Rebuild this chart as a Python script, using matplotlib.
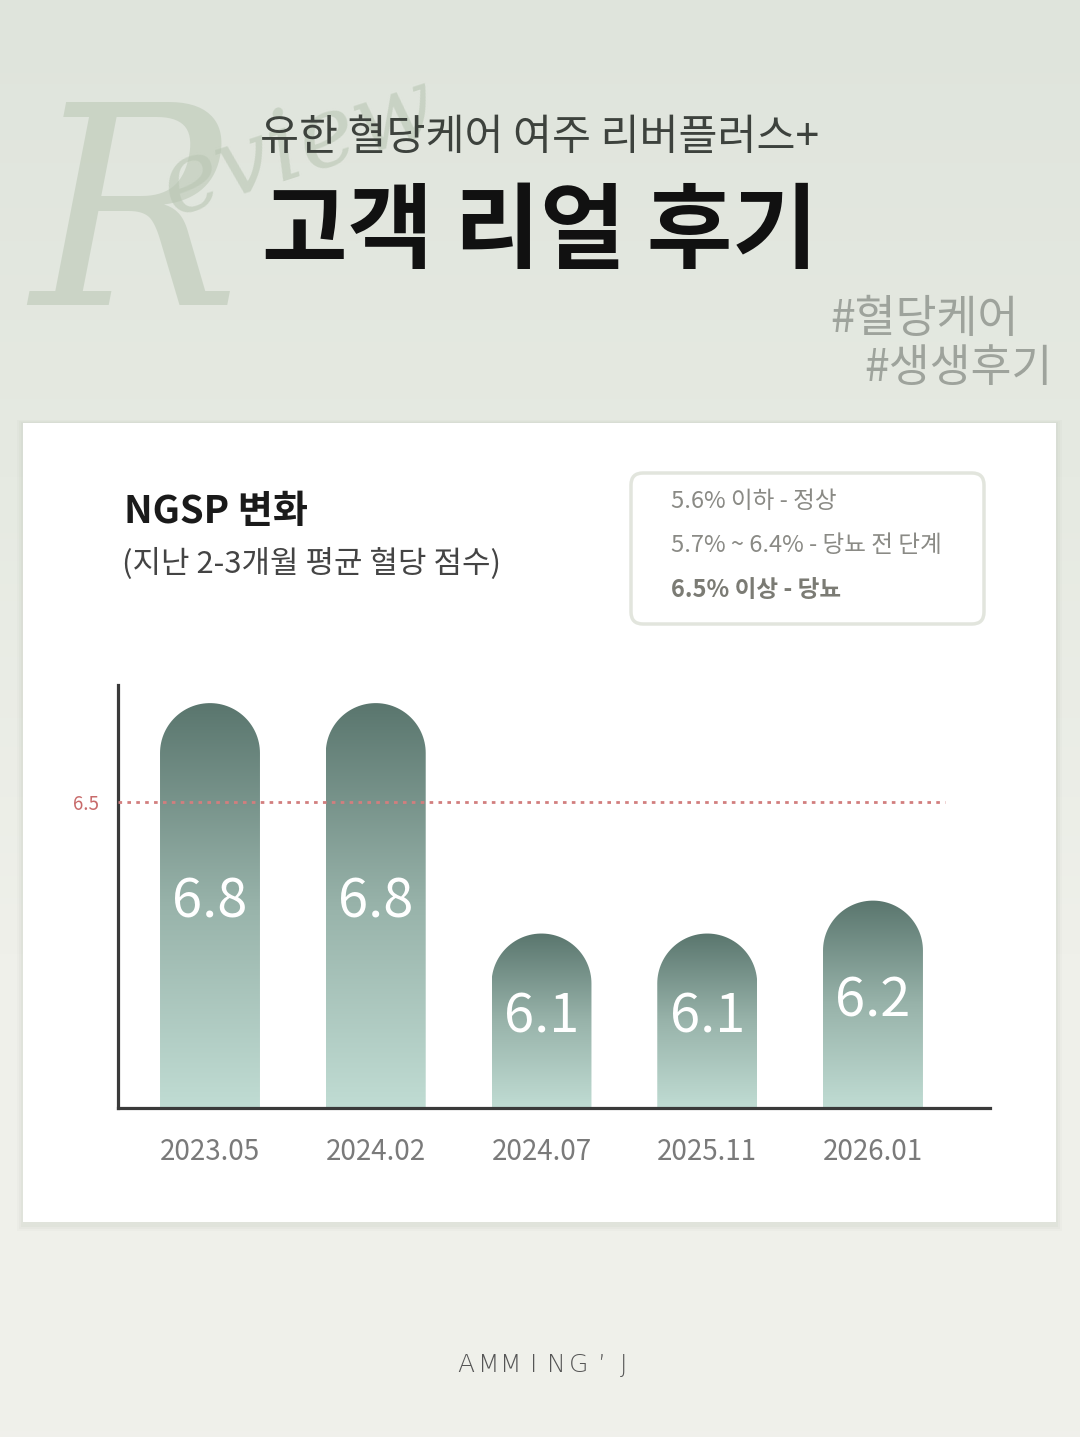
import numpy as np
import matplotlib
matplotlib.use('Agg')
import matplotlib.pyplot as plt
from matplotlib.patches import Polygon, FancyBboxPatch, Rectangle
from matplotlib.colors import LinearSegmentedColormap

plt.rcParams['font.family'] = ['Noto Sans CJK KR', 'DejaVu Sans']

# data
periods = ['2023.05', '2024.02', '2024.07', '2025.11', '2026.01']
ngsp = [6.8, 6.8, 6.1, 6.1, 6.2]
threshold = 6.5
legend_lines = ['5.6% 이하 - 정상', '5.7% ~ 6.4% - 당뇨 전 단계', '6.5% 이상 - 당뇨']

W, H = 1080, 1437
fig = plt.figure(figsize=(W / 100, H / 100), dpi=100)

# background layer in pixel coords
bg = fig.add_axes([0, 0, 1, 1])
bg.set_xlim(0, W)
bg.set_ylim(H, 0)
bg.axis('off')
grad = np.linspace(0, 1, 256).reshape(-1, 1)
bg_cmap = LinearSegmentedColormap.from_list('bg', ['#dfe4dc', '#e6eae2', '#eff0ea', '#f0f0eb'])
bg.imshow(grad, extent=[0, W, H, 0], cmap=bg_cmap, aspect='auto', zorder=0)

# script watermark (rough stand-in for the hand lettering)
bg.text(30, 305, 'R', fontsize=200, family='DejaVu Serif', style='italic',
        fontweight='light', color='#b9c6b3', alpha=0.55, zorder=1)
bg.text(150, 215, 'eview', fontsize=70, family='DejaVu Serif', style='italic',
        color='#b9c6b3', alpha=0.6, rotation=18, zorder=1)

bg.text(540, 138, '유한 혈당케어 여주 리버플러스+', fontsize=30.5, color='#3d423d',
        ha='center', va='center', zorder=2)
bg.text(540, 233, '고객 리얼 후기', fontsize=67, fontweight='bold', color='#111111',
        ha='center', va='center', zorder=2)
bg.text(1018, 319, '#혈당케어', fontsize=32, color='#9ea39c', ha='right', va='center', zorder=2)
bg.text(1052, 368, '#생생후기', fontsize=32, color='#9ea39c', ha='right', va='center', zorder=2)

# card with soft shadow
for k, a in enumerate([0.05, 0.04, 0.03]):
    bg.add_patch(Rectangle((23 - 2 - k * 2, 423 - 1 - k), 1033 + 4 + k * 4, 799 + 6 + k * 3,
                           facecolor='#808878', alpha=a, edgecolor='none', zorder=2))
bg.add_patch(Rectangle((23, 423), 1033, 799, facecolor='white', edgecolor='none', zorder=3))

bg.text(124, 511, 'NGSP 변화', fontsize=27.5, fontweight='bold', color='#1a1a1a',
        ha='left', va='center', zorder=4)
bg.text(122, 564, '(지난 2-3개월 평균 혈당 점수)', fontsize=22.3, color='#444444',
        ha='left', va='center', zorder=4)

# legend box
bg.add_patch(FancyBboxPatch((631, 473), 353, 151, boxstyle='round,pad=0,rounding_size=12',
                            facecolor='white', edgecolor='#e2e5dd', linewidth=2.5, zorder=4))
for j, line in enumerate(legend_lines):
    bg.text(671, 501 + j * 44.5, line, fontsize=17, color='#8a8a85' if j < 2 else '#7b7b74',
            fontweight='bold' if j == 2 else 'normal', ha='left', va='center', zorder=5)

# footer logo
for j, ch in enumerate('AMMING’J'):
    bg.text(466 + j * 22.5, 1365, ch, fontsize=18, color='#555555', family='DejaVu Sans',
            fontweight='light', ha='center', va='center', zorder=2)

# chart
ax_l, ax_r, ax_t, ax_b = 118, 990, 685, 1108
ax = fig.add_axes([ax_l / W, (H - ax_b) / H, (ax_r - ax_l) / W, (ax_b - ax_t) / H])
ax.set_facecolor('none')
floor = 5.57
ytop = 6.855
xlo, xhi = -0.555, 4.706
ax.set_xlim(xlo, xhi)
ax.set_ylim(floor, ytop)

bw = 0.603
px_x = (ax_r - ax_l) / (xhi - xlo)
px_y = (ax_b - ax_t) / (ytop - floor)
ry = (bw / 2 * px_x) / px_y

bar_cmap = LinearSegmentedColormap.from_list('bar', ['#c0dcd3', '#98b3aa', '#5a766e'])
for i, v in enumerate(ngsp):
    x0, x1 = i - bw / 2, i + bw / 2
    t = np.linspace(np.pi, 0, 60)
    arc = np.column_stack([i + bw / 2 * np.cos(t), v - ry + ry * np.sin(t)])
    pts = np.vstack([[x0, floor], arc, [x1, floor]])
    shape = Polygon(pts, closed=True, facecolor='none', edgecolor='none')
    ax.add_patch(shape)
    im = ax.imshow(grad, extent=[x0, x1, floor, v], cmap=bar_cmap, origin='lower',
                   aspect='auto', zorder=2)
    im.set_clip_path(shape)
    ax.text(i, (v + floor) / 2 + 0.01, f'{v}', fontsize=39, color='white', ha='center',
            va='center', zorder=4)

ax.set_xlim(xlo, xhi)
ax.set_ylim(floor, ytop)

ax.hlines(threshold, xlo, 4.434, colors='#d27e7e', linewidth=2.0,
          linestyles=(0, (1.3, 1.9)), zorder=3)

for s in ['top', 'right']:
    ax.spines[s].set_visible(False)
for s in ['left', 'bottom']:
    ax.spines[s].set_color('#3a3a3a')
    ax.spines[s].set_linewidth(2.3)

ax.set_xticks(range(len(periods)))
ax.set_xticklabels(periods, fontsize=20, color='#7a7a7a')
ax.tick_params(axis='x', length=0, pad=21)
ax.set_yticks([threshold])
ax.set_yticklabels(['6.5'], fontsize=13.5, color='#c86a6a')
ax.tick_params(axis='y', length=0, pad=14)

fig.savefig('out.png', dpi=100)
